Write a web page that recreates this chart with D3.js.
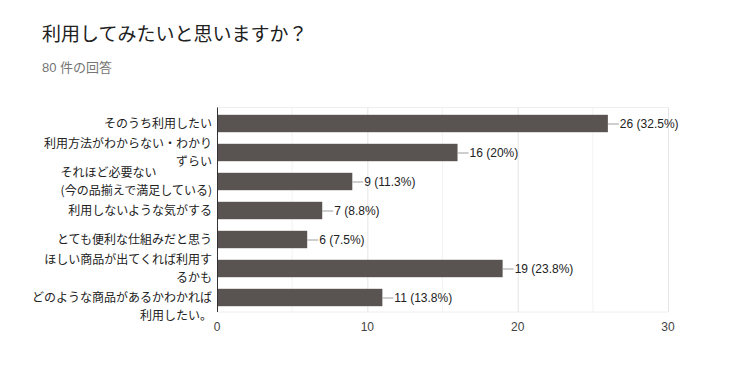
<!DOCTYPE html>
<html>
<head>
<meta charset="utf-8">
<script src="https://cdn.jsdelivr.net/npm/d3@7"></script>
<style>
  body { margin: 0; background: #fff; }
  text { font-family: Arial, "Liberation Sans", "Noto Sans CJK JP", sans-serif; }
</style>
</head>
<body>
<svg id="chart" width="756" height="380"></svg>
<script>
const title = "利用してみたいと思いますか？";
const subtitle = "80 件の回答";
// "\n" marks where the label wraps
const categories = [
    "そのうち利用したい",
    "利用方法がわからない・わかり\nずらい",
    "それほど必要ない\n(今の品揃えで満足している)",
    "利用しないような気がする",
    "とても便利な仕組みだと思う",
    "ほしい商品が出てくれば利用す\nるかも",
    "どのような商品があるかわかれば\n利用したい。"
];
const counts = [26, 16, 9, 7, 6, 19, 11];
const percents = ["32.5%", "20%", "11.3%", "8.8%", "7.5%", "23.8%", "13.8%"];
const xTicks = [0, 10, 20, 30];
const xMinorTicks = [5, 15, 25];

const svg = d3.select("#chart");
const plot = {left: 217, right: 668, top: 109, bottom: 312};
const cjk = "'Noto Sans CJK JP', sans-serif";

svg.append("text")
    .attr("x", 42).attr("y", 41)
    .attr("font-size", 19).attr("fill", "#212121")
    .style("font-family", cjk)
    .text(title);

svg.append("text")
    .attr("x", 42).attr("y", 72)
    .attr("font-size", 13).attr("fill", "#757575")
    .text(subtitle);

let x = d3.scaleLinear().domain([0, 30]).range([plot.left, plot.right]);
let y = d3.scaleBand().domain(d3.range(categories.length))
    .range([plot.top, plot.bottom])
    .paddingInner(0.4).paddingOuter(0.2);

//grid
svg.append("line")
    .attr("x1", plot.left).attr("x2", plot.right)
    .attr("y1", plot.top - 1.5).attr("y2", plot.top - 1.5)
    .attr("stroke", "#eeeeee");
svg.append("line")
    .attr("x1", plot.left).attr("x2", plot.right)
    .attr("y1", plot.bottom).attr("y2", plot.bottom)
    .attr("stroke", "#eeeeee");
svg.selectAll(".minor").data(xMinorTicks).join("line")
    .attr("class", "minor")
    .attr("x1", d => x(d)).attr("x2", d => x(d))
    .attr("y1", plot.top - 1.5).attr("y2", plot.bottom)
    .attr("stroke", "#f3f3f3");
svg.selectAll(".major").data(xTicks.slice(1)).join("line")
    .attr("class", "major")
    .attr("x1", d => x(d) + 0.5).attr("x2", d => x(d) + 0.5)
    .attr("y1", plot.top - 1.5).attr("y2", plot.bottom)
    .attr("stroke", "#e4e4e4");

//bars
svg.selectAll(".bar").data(counts).join("rect")
    .attr("class", "bar")
    .attr("x", x(0))
    .attr("y", (d, i) => y(i))
    .attr("width", d => x(d) - x(0))
    .attr("height", y.bandwidth())
    .attr("fill", "#595451");

//value labels with leader line
let val = svg.selectAll(".val").data(counts).join("g")
    .attr("class", "val")
    .attr("transform", (d, i) => `translate(${x(d)} ${y(i) + y.bandwidth() / 2})`);
val.append("line")
    .attr("x1", 0).attr("x2", 11).attr("y1", 0.5).attr("y2", 0.5)
    .attr("stroke", "#9e9e9e");
val.append("text")
    .attr("x", 12).attr("dy", "0.36em")
    .attr("font-size", 12).attr("fill", "#222")
    .text((d, i) => `${d} (${percents[i]})`);

//axis
svg.append("line")
    .attr("x1", plot.left + 0.5).attr("x2", plot.left + 0.5)
    .attr("y1", plot.top - 1.5).attr("y2", plot.bottom)
    .attr("stroke", "#333");
svg.selectAll(".tick").data(xTicks).join("text")
    .attr("class", "tick")
    .attr("x", d => x(d)).attr("y", 331)
    .attr("text-anchor", "middle")
    .attr("font-size", 12).attr("fill", "#444")
    .text(d => d);

//category labels
const lineH = 18;
let labels = svg.selectAll(".cat").data(categories).join("text")
    .attr("class", "cat")
    .attr("font-size", 12).attr("fill", "#222")
    .style("font-family", cjk);
labels.each(function(d, i) {
    let lines = d.split("\n");
    let cy = y(i) + y.bandwidth() / 2;
    let startY = cy - (lines.length - 1) * lineH / 2;
    if (i === categories.length - 1) startY = cy; //last label is pushed down
    let t = d3.select(this);
    lines.forEach((ln, j) => {
        t.append("tspan")
            .attr("x", 212)
            .attr("y", startY + j * lineH)
            .attr("dy", "0.36em")
            .attr("text-anchor", "end")
            .text(ln);
    });
    //block label: first line starts where the longer line starts
    if (i === 2) {
        let spans = t.selectAll("tspan").nodes();
        let w = spans[1].getComputedTextLength();
        d3.select(spans[0]).attr("text-anchor", "start").attr("x", 212 - w);
    }
});
</script>
</body>
</html>
